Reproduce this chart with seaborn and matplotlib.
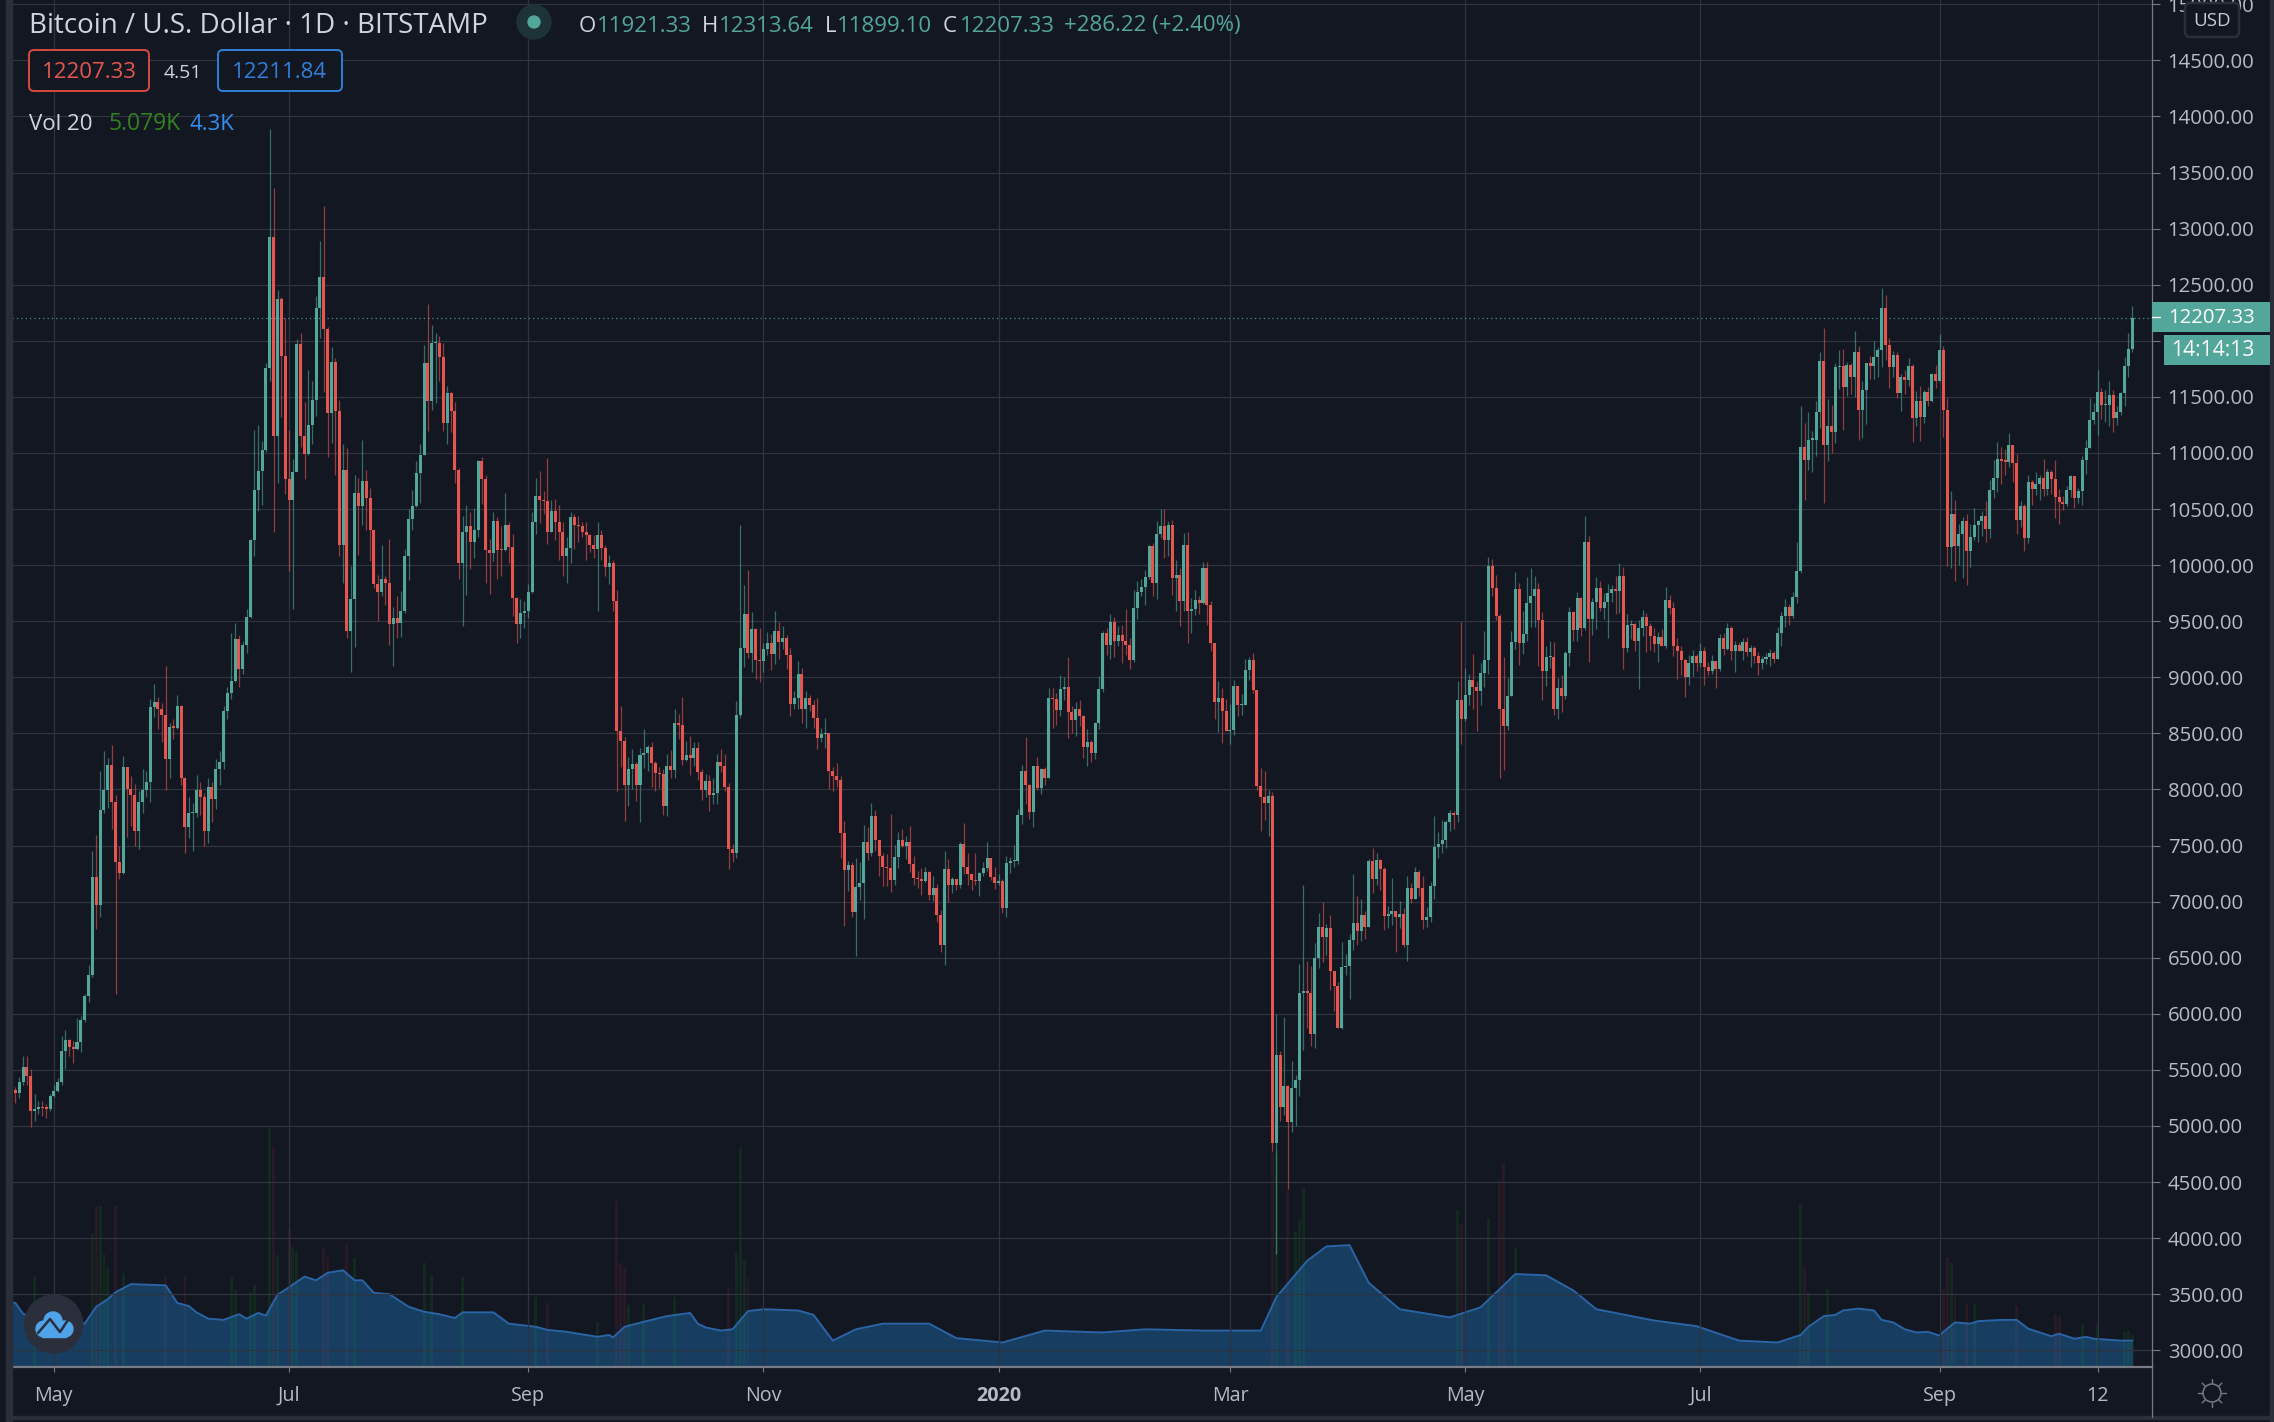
import matplotlib
matplotlib.use("Agg")
import matplotlib.pyplot as plt
import matplotlib.patches as mpatches
from matplotlib.lines import Line2D
from matplotlib.transforms import IdentityTransform
import pandas as pd
import seaborn as sns
import numpy as np

W, H = 2274, 1422
BG = "#131722"
GRID = "#2f333f"
AXIS = "#787b86"
LABEL = "#b7bac2"
UP = "#52a69a"
DOWN = "#e5574e"

START = "2019-04-21"
first_open = 5320

close_vals = [
    5293,5391,5529,5443,5132,5149,5167,5161,5155,5270,
    5310,5391,5667,5764,5701,5690,5747,5943,6155,6345,
    7218,6971,7816,7994,8218,7885,7350,7253,8201,8000,
    7954,7626,7885,7994,8063,8736,8776,8718,8667,8270,
    8557,8552,8741,8103,7661,7787,7793,7994,7937,7626,
    8023,7919,8178,8241,8695,8856,8971,9339,9075,9287,
    9534,10224,10672,10839,11029,11758,12925,11149,12368,11868,
    10764,10580,10833,11971,11149,10994,11247,11471,12293,12569,
    12103,11356,11810,11375,10182,10852,9410,9700,10647,10531,
    10753,10596,10315,9834,9758,9878,9837,9471,9530,9488,
    9591,10083,10408,10527,10825,10985,11798,11460,11976,11983,
    11856,11265,11532,11375,10852,10018,10298,10350,10203,10312,
    10924,10766,10134,10110,10397,10134,10131,10356,10158,9704,
    9478,9577,9591,9762,10387,10620,10578,10572,10298,10486,
    10387,10298,10083,10155,10425,10360,10346,10298,10264,10182,
    10148,10271,10155,9981,10022,9676,8521,8429,8043,8180,
    8226,8039,8304,8322,8378,8238,8146,8137,7851,8206,
    8176,8592,8574,8262,8304,8280,8369,8158,7997,8075,
    7950,7967,8244,8208,8024,7467,7432,8664,9262,9565,
    9217,9432,9155,9146,9253,9307,9208,9414,9315,9351,
    9199,8762,8816,9030,8717,8816,8753,8637,8458,8494,
    8500,8164,8119,8083,7610,7280,7325,6905,7128,7164,
    7530,7432,7762,7548,7405,7307,7298,7191,7396,7548,
    7494,7530,7333,7208,7200,7182,7262,7057,7119,6878,
    6610,7292,7148,7205,7148,7515,7310,7244,7192,7183,
    7253,7297,7389,7218,7166,7183,6943,7345,7358,7362,
    7773,8162,8040,7799,8206,8009,8184,8101,8813,8804,
    8704,8892,8909,8691,8621,8721,8651,8376,8420,8324,
    8590,8892,9399,9285,9495,9320,9381,9320,9285,9150,
    9622,9757,9801,9897,10172,9844,10273,10351,10220,10360,
    9888,9914,9683,10181,9591,9613,9687,9661,9971,9643,
    9303,8778,8818,8695,8520,8529,8918,8752,8756,9067,
    9158,8883,8035,7935,7882,7939,4850,5636,5173,5352,
    5033,5339,5413,6187,6204,6187,5820,6497,6772,6685,
    6764,6379,6248,5872,6418,6427,6659,6812,6737,6882,
    6772,7362,7201,7371,7292,6873,6890,6917,6864,6890,
    6611,7122,7021,7266,7122,6838,6864,7139,7485,7511,
    7550,7708,7786,7773,8796,8630,8839,8979,8909,8879,
    9036,9158,9993,9792,9543,8721,8568,8831,9316,9788,
    9303,9390,9665,9722,9788,9508,9060,9179,9185,8717,
    8902,8836,9217,9583,9423,9708,9440,10208,9521,9673,
    9798,9619,9673,9753,9789,9771,9905,9262,9467,9476,
    9324,9440,9539,9458,9369,9298,9360,9280,9690,9619,
    9280,9235,9155,9003,9128,9190,9128,9235,9092,9057,
    9146,9074,9351,9253,9440,9235,9289,9235,9315,9226,
    9262,9190,9128,9164,9182,9217,9164,9396,9548,9628,
    9548,9717,9949,11056,10940,11119,11119,11369,11824,11074,
    11244,11190,11762,11774,11592,11780,11673,11896,11387,11565,
    11798,11771,11851,11914,12295,11961,11765,11872,11533,11676,
    11649,11774,11315,11467,11324,11539,11467,11708,11643,11920,
    11387,10158,10458,10167,10274,10390,10122,10247,10354,10396,
    10440,10324,10673,10780,10949,10932,10923,11074,10914,10405,
    10530,10238,10744,10682,10726,10780,10682,10833,10771,10610,
    10565,10547,10673,10798,10595,10664,10935,11048,11298,11369,
    11539,11428,11428,11518,11315,11369,11533,11774,11923,12207,
]

high_vals = [
    5351,5437,5626,5626,5511,5287,5224,5218,5195,5282,
    5362,5425,5799,5851,5776,5753,5965,5983,6172,6431,
    7448,7592,8167,8339,8280,8396,7948,7494,8299,8201,
    8121,8052,7983,8184,8161,8805,8937,8822,8770,9098,
    8592,8626,8839,8753,8109,7937,7879,8132,8063,7971,
    8098,8063,8270,8339,8741,8914,9391,9483,9373,9327,
    9609,10236,11207,11247,11109,11804,13890,13362,12454,12390,
    12207,11207,10948,12017,12069,11454,11741,11638,12402,12891,
    13201,12121,11948,11850,11470,11084,11040,9990,10800,10780,
    11118,10845,10684,10326,9916,10182,9899,10237,9629,9728,
    9772,10148,10497,10674,10924,11084,11959,12325,12143,12068,
    12041,11980,11593,11546,11450,10870,10442,10537,10469,10510,
    10941,10961,10804,10237,10476,10432,10353,10647,10380,10281,
    9720,9700,9683,9834,10469,10780,10835,10664,10954,10578,
    10592,10537,10387,10247,10469,10459,10442,10380,10380,10278,
    10264,10380,10309,10182,10093,10049,9779,8740,8467,8289,
    8360,8247,8366,8539,8396,8420,8253,8200,8182,8316,
    8351,8717,8673,8824,8432,8476,8423,8423,8182,8137,
    8128,8101,8316,8360,8316,8057,7512,8789,10360,9824,
    9958,9583,9441,9441,9307,9405,9387,9592,9494,9458,
    9381,9262,8878,9146,9083,8878,8842,8797,8815,8548,
    8637,8503,8200,8235,8119,7717,7360,7351,7387,7351,
    7682,7664,7878,7816,7550,7432,7423,7780,7503,7619,
    7646,7583,7673,7405,7271,7298,7307,7271,7226,7158,
    6923,7450,7380,7218,7201,7533,7699,7432,7253,7432,
    7262,7349,7533,7389,7310,7244,7201,7406,7397,7502,
    7826,8219,8464,8052,8206,8289,8193,8197,8901,8901,
    8857,9019,9001,9185,8743,8778,8796,8660,8538,8437,
    8599,9010,9416,9442,9565,9534,9460,9469,9613,9347,
    9775,9862,9879,9954,10181,10198,10391,10500,10504,10395,
    10404,10045,9971,10290,10299,9709,9775,9722,10024,10032,
    9683,9290,8971,8901,8804,8761,8979,8926,8848,9167,
    9185,9220,8890,8193,8162,7992,7974,6000,5671,5973,
    5362,5579,5453,6445,7148,6471,6427,6632,6899,6995,
    6799,6882,6383,6284,6641,6532,6711,7244,7052,7021,
    6912,7380,7476,7432,7380,7310,6960,7209,6917,7005,
    6943,7227,7166,7310,7284,7227,6952,7174,7764,7620,
    7725,7725,7817,7812,8971,9490,9080,9027,9211,8970,
    9123,9416,10076,10050,9914,9565,9180,8992,9416,9941,
    9844,9587,9897,9971,9906,9844,9583,9280,9324,9315,
    8994,9021,9235,9628,9592,9762,9717,10440,10256,9708,
    9896,9860,9753,9833,9824,9905,10021,9985,9565,9512,
    9485,9512,9601,9577,9485,9440,9405,9432,9806,9735,
    9673,9351,9280,9164,9199,9244,9208,9307,9271,9137,
    9199,9146,9387,9396,9485,9458,9324,9315,9351,9360,
    9289,9280,9226,9190,9217,9253,9235,9449,9583,9699,
    9655,9762,10208,11422,11271,11369,11199,11467,11896,12110,
    11485,11431,11806,11922,11923,11815,11806,12083,11949,11640,
    11806,11860,11997,11940,12473,12408,12029,11908,11899,11702,
    11738,11845,11792,11548,11601,11557,11592,11717,11780,12063,
    11955,11488,10658,10577,10363,10426,10458,10363,10506,10405,
    10485,10574,10762,10940,11101,11057,11039,11182,11074,10994,
    10574,10548,10800,10762,10833,10806,10949,10860,10851,10940,
    10676,10613,10702,10807,10798,10684,10970,11119,11494,11449,
    11735,11577,11565,11640,11560,11414,11542,11854,12068,12313,
]

low_vals = [
    5207,5247,5362,5362,4995,5046,5103,5092,5069,5132,
    5259,5305,5362,5506,5621,5563,5678,5655,5931,6109,
    6328,6759,6862,7793,7833,7649,6172,7201,7247,7575,
    7678,7500,7471,7787,7937,7891,8649,8540,8420,7994,
    8098,8454,8540,8040,7431,7563,7448,7753,7770,7500,
    7523,7707,7822,8040,8178,8626,8810,8960,8914,9029,
    9213,9529,10080,10483,10540,11006,11643,10293,10735,11316,
    10638,9948,9609,10839,11052,10770,10983,11080,11327,12029,
    11546,10966,11086,10800,10083,9844,9352,9044,9273,10093,
    10356,10315,10035,9793,9506,9728,9642,9290,9102,9352,
    9362,9570,9871,10309,10520,10558,10982,11197,11381,11443,
    11645,11197,11081,11187,10732,9878,9461,9731,9967,10059,
    10254,10544,9844,9745,10039,9878,9899,10128,10015,9550,
    9307,9348,9437,9530,9752,10281,10373,10452,10192,10291,
    10220,10049,9899,9844,10022,10148,10210,10247,10049,10120,
    10059,9594,10049,9906,9834,9594,7988,8200,7718,7855,
    8000,7896,7708,8194,8164,8021,7985,8009,7771,7765,
    8101,8101,8449,8217,8253,8128,8208,8083,7905,7932,
    7807,7869,7869,8155,7985,7289,7351,7387,8637,9092,
    9173,9048,8985,8958,9048,9199,9066,9119,9164,9253,
    9074,8655,8717,8717,8592,8548,8699,8548,8360,8423,
    8369,8003,7985,8021,7387,6780,7092,6860,6512,7012,
    6842,7369,7405,7450,7226,7137,7137,7084,7146,7298,
    7485,7378,7262,7146,7119,7063,7173,7012,7003,6815,
    6551,6432,7000,7074,7104,7122,7244,7148,7104,7148,
    7052,7231,7275,7192,7113,7148,6899,6860,7253,7310,
    7336,7695,7869,7734,7664,7992,7957,8040,8101,8547,
    8573,8651,8796,8455,8499,8472,8564,8280,8206,8245,
    8271,8538,8870,9202,9163,9185,9276,9123,9202,9071,
    9132,9517,9722,9648,9879,9722,9700,10238,10059,10081,
    9731,9587,9460,9595,9303,9394,9556,9560,9657,9469,
    9233,8625,8512,8411,8520,8402,8481,8651,8660,8752,
    8979,8857,7996,7633,7725,7585,4780,3858,5046,5094,
    4434,4946,5002,5269,5676,5872,5710,5693,6405,6458,
    6523,6209,6025,5872,5863,6344,6134,6571,6611,6650,
    6668,6772,7078,7148,7104,6746,6764,6794,6549,6764,
    6598,6471,6987,7021,7052,6755,6772,6820,7022,7389,
    7432,7476,7629,7646,7708,8402,8612,8752,8717,8520,
    8752,8909,9027,9722,9512,8101,8171,8529,8831,9250,
    9106,9211,9320,9447,9447,9097,8798,8926,9086,8664,
    8631,8693,8810,9101,9324,9324,9369,9423,9137,9381,
    9432,9592,9521,9351,9673,9565,9574,9074,9226,9342,
    9235,8896,9369,9226,9244,9226,9137,9280,9262,9565,
    9190,8985,9021,8824,8932,9012,9057,9092,8932,9021,
    9030,8905,9057,9199,9244,9155,9048,9235,9155,9190,
    9092,9128,9021,9074,9119,9101,9128,9164,9280,9449,
    9467,9530,9664,9931,10583,10851,10833,10976,11226,10556,
    10931,11003,11092,11574,11208,11512,11521,11503,11119,11137,
    11262,11658,11655,11681,11762,11827,11577,11676,11488,11372,
    11524,11595,11101,11244,11110,11271,11414,11458,11577,11643,
    11146,9988,9970,9854,9997,9881,9827,9979,10220,10202,
    10262,10208,10244,10601,10655,10726,10807,10878,10744,10280,
    10342,10128,10194,10539,10628,10583,10619,10628,10634,10423,
    10369,10494,10524,10607,10512,10551,10533,10815,11048,11262,
    11164,11306,11280,11244,11190,11253,11342,11417,11673,11899,
]

# volume MA (in K), read at the bends of the curve, day number from START
vol_ma_days = [-1,0,2,5,18,21,24,26,30,39,42,45,47,50,54,58,60,63,65,68,71,75,78,81,85,88,90,93,97,
               102,106,110,114,116,124,128,135,138,143,151,154,155,158,163,169,175,177,179,183,186,
               190,194,203,207,212,218,225,237,244,256,267,282,293,308,323,327,335,340,346,351,359,
               372,380,389,397,404,410,425,436,447,457,463,465,469,472,474,478,482,484,487,490,493,
               496,499,500,503,507,509,515,519,522,528,530,534,537,539,546,549]
vol_ma_vals = [10.3,10.2,8.5,7.7,6.9,9.6,10.8,11.9,13.2,13.0,10.2,9.7,8.7,7.7,7.5,8.4,7.7,8.6,8.2,11.5,12.7,14.4,13.8,15.0,15.4,13.8,13.8,11.8,11.6,
               9.6,8.8,8.4,7.8,8.7,8.7,6.9,6.4,5.9,5.6,4.8,5.1,4.7,6.4,7.2,8.1,8.6,6.9,6.3,5.8,6.0,
               8.9,9.2,9.0,8.3,4.2,6.0,6.9,6.9,4.6,3.9,5.8,5.5,6.0,5.8,5.8,11.1,16.9,19.2,19.4,13.4,9.2,
               7.9,9.5,14.8,14.6,12.2,9.2,7.4,6.5,4.2,3.9,5.1,6.4,8.1,8.3,9.0,9.3,9.0,7.5,7.1,6.0,5.5,
               5.6,5.0,5.6,7.1,6.9,7.3,7.5,7.5,6.1,4.9,5.3,4.5,4.8,4.5,4.2,4.2]

# the daily volume bars that stand clear of the MA area
vol_days = [5,20,21,22,23,24,26,28,39,44,56,57,61,62,66,67,68,71,72,73,80,81,86,88,106,108,116,135,138,151,
            156,157,158,159,163,171,185,187,188,189,190,326,327,330,332,333,334,374,375,382,385,386,389,
            463,464,465,470,500,501,502,503,506,508,519,529,530,536,540,547,548,549]
vol_vals = [14.4,21.1,25.7,25.7,18.0,15.9,25.7,14.9,14.4,14.7,14.4,12.2,11.9,13.1,38.0,35.0,17.8,21.8,19.1,18.4,19.0,17.5,19.6,17.4,16.5,14.7,14.4,11.1,10.2,7.2,
            26.5,16.5,16.0,9.8,10.0,11.1,12.8,18.1,35.0,17.0,14.1,34.4,34.0,28.2,21.5,23.4,28.5,25.0,22.8,23.7,29.8,32.5,19.0,
            26.0,16.0,12.0,12.5,12.5,17.5,16.5,11.7,10.0,10.0,9.7,8.5,8.1,6.9,6.9,5.5,5.8,5.08]

price_ticks = list(range(3000, 15500, 500))
time_ticks = ["2019-05-01", "2019-07-01", "2019-09-01", "2019-11-01", "2020-01-01",
              "2020-03-01", "2020-05-01", "2020-07-01", "2020-09-01", "2020-10-12"]
time_labels = ["May", "Jul", "Sep", "Nov", "2020", "Mar", "May", "Jul", "Sep", "12"]

sns.set_theme(style="dark")
plt.rcParams["font.family"] = ["Open Sans", "DejaVu Sans"]

start = pd.Timestamp(START)
df = pd.DataFrame({"date": pd.date_range(START, periods=len(close_vals)),
                   "close": close_vals, "high": high_vals, "low": low_vals})
df["open"] = df["close"].shift().fillna(first_open)
df["up"] = df["close"] >= df["open"]
df["color"] = np.where(df["up"], UP, DOWN)

fig = plt.figure(figsize=(W / 100, H / 100), dpi=100, facecolor=BG)
ax = fig.add_axes([12 / W, 1 - 1367 / H, (2152 - 12) / W, 1367 / H])
ax_vol = ax.twinx()

# volume pane underneath the candles
ax_vol.set_zorder(0)
ax.set_zorder(1)
ax.patch.set_visible(False)
ax_vol.patch.set_facecolor(BG)
ax_vol.patch.set_visible(True)

vol_dates = start + pd.to_timedelta(vol_days, unit="D")
vol_up = df.set_index("date").loc[vol_dates, "up"].values
ax_vol.bar(vol_dates, vol_vals, width=0.75, color=np.where(vol_up, "#13291f", "#271a24"), linewidth=0)

ma_df = pd.DataFrame({"date": start + pd.to_timedelta(vol_ma_days, unit="D"), "vol": vol_ma_vals})
ax_vol.fill_between(ma_df["date"], ma_df["vol"], 0, color="#2196f3", alpha=0.3, linewidth=0)
sns.lineplot(data=ma_df, x="date", y="vol", ax=ax_vol, color="#2a64a5", linewidth=1.4)
ax_vol.set_ylim(0, 1367 / 6.28)
ax_vol.set_ylabel("")
ax_vol.set_yticks([])
for s in ax_vol.spines.values():
    s.set_visible(False)

# candles
ax.vlines(df["date"], df["low"], df["high"], colors=df["color"], linewidth=0.9, alpha=0.6, zorder=3)
body_low = df[["open", "close"]].min(axis=1)
body_h = (df["close"] - df["open"]).abs().clip(lower=10)
ax.bar(df["date"], body_h, bottom=body_low, width=0.78, color=df["color"], linewidth=0, zorder=4)

ax.axhline(12207.33, color=UP, linewidth=0.9, linestyle=(0, (1, 2.5)), alpha=0.85, zorder=2)

x0 = start + pd.Timedelta(days=-0.856)
x1 = start + pd.Timedelta(days=554.1)
ax.set_xlim(x0, x1)
ax.set_ylim(2851, 15038)

ax.set_yticks(price_ticks)
# the 12000 label sits fully behind the price tags
ax.set_yticklabels(["" if p == 12000 else f"{p:.2f}" for p in price_ticks])
ax.yaxis.tick_right()
ax.tick_params(axis="y", length=5.8, width=0.8, color=AXIS, labelcolor=LABEL, labelsize=14.7, pad=5.5, right=True)
ax.set_xticks(pd.to_datetime(time_ticks))
ax.set_xticklabels(time_labels)
ax.tick_params(axis="x", length=3.6, width=0.8, color=AXIS, labelcolor=LABEL, labelsize=14.2, pad=10, bottom=True)
for lab in ax.get_xticklabels():
    if lab.get_text() == "2020":
        lab.set_fontweight("bold")
ax.grid(True, color=GRID, linewidth=0.9)
ax.set_axisbelow(True)
ax.set_xlabel("")
ax.set_ylabel("")
for side in ["top", "left"]:
    ax.spines[side].set_visible(False)
ax.spines["right"].set_color(AXIS)
ax.spines["right"].set_linewidth(0.9)
ax.spines["bottom"].set_color(AXIS)
ax.spines["bottom"].set_linewidth(1.6)


def fx(px):
    return px / W


def fy(py):
    return 1 - py / H


def label(px, py, s, color=LABEL, size=16, ha="left", **kw):
    fig.text(fx(px), fy(py), s, color=color, fontsize=size, ha=ha, va="center", zorder=8, **kw)


def box(x0_, y0_, x1_, y1_, face, edge=None, lw=1.4, rounded=False):
    style = "round,pad=0,rounding_size=5" if rounded else "square,pad=0"
    p = mpatches.FancyBboxPatch((x0_, H - y1_), x1_ - x0_, y1_ - y0_, boxstyle=style,
                                transform=IdentityTransform(), facecolor=face,
                                edgecolor=edge if edge else "none", linewidth=lw if edge else 0, zorder=6)
    fig.add_artist(p)


# header
label(29, 26, "Bitcoin / U.S. Dollar \u00b7 1D \u00b7 BITSTAMP", color="#d1d4dc", size=20)
fig.add_artist(mpatches.Circle((534, H - 22), 17, transform=IdentityTransform(), color="#1e3338", zorder=6))
fig.add_artist(mpatches.Circle((534, H - 22), 6, transform=IdentityTransform(), color=UP, zorder=7))
for px, s, col in [(579, "O", "#d1d4dc"), (597, "11921.33", UP), (702, "H", "#d1d4dc"), (719, "12313.64", UP),
                   (825, "L", "#d1d4dc"), (837, "11899.10", UP), (943, "C", "#d1d4dc"), (960, "12207.33", UP),
                   (1064, "+286.22 (+2.40%)", UP)]:
    label(px, 26, s, color=col, size=16)

box(29, 50, 149, 91, BG, "#d8493f", rounded=True)
label(89, 73, "12207.33", color="#e5574e", size=16, ha="center")
label(183, 73, "4.51", color="#d1d4dc", size=14, ha="center")
box(218, 50, 342, 91, BG, "#2f7fd8", rounded=True)
label(280, 73, "12211.84", color="#2f7fd8", size=16, ha="center")

label(29, 124, "Vol 20", color="#d1d4dc", size=16)
label(109, 124, "5.079K", color="#33801f", size=16.5)
label(190, 124, "4.3K", color="#2f8ff0", size=16)

# scale corner, price and countdown tags
box(2185, 3, 2239, 37, BG, "#2a2e39", lw=1.8, rounded=True)
label(2212, 21, "USD", color="#c8cbd3", size=13.5, ha="center")
box(2152, 302, 2270, 332, UP)
label(2168, 318, "12207.33", color="#ffffff", size=14.7)
fig.add_artist(Line2D([fx(2152), fx(2160)], [fy(317), fy(317)], color="#ffffff", linewidth=0.9, zorder=7))
box(2164, 335, 2270, 365, UP)
label(2171, 350, "14:14:13", color="#ffffff", size=15.2)

# page frame
fig.add_artist(mpatches.Rectangle((6, 0), 6, H, transform=IdentityTransform(), color="#2a2e39", zorder=5))
fig.add_artist(mpatches.Rectangle((2270, 0), 4, H, transform=IdentityTransform(), color="#2a2e39", zorder=5))
fig.add_artist(mpatches.Rectangle((12, H - 1419), 2258, 3, transform=IdentityTransform(), color="#2a2e39", zorder=5))
fig.add_artist(Line2D([fx(2152), fx(2152)], [fy(1367), fy(1417)], color=AXIS, linewidth=0.9, zorder=5))

# settings icon
sx, sy = 2212, 1393
fig.add_artist(mpatches.Circle((sx, H - sy), 9, transform=IdentityTransform(), facecolor=BG,
                               edgecolor=AXIS, linewidth=1.1, zorder=6))
for a in np.deg2rad(np.arange(0, 360, 45)):
    fig.add_artist(Line2D([fx(sx + 10 * np.cos(a)), fx(sx + 14 * np.cos(a))],
                          [fy(sy + 10 * np.sin(a)), fy(sy + 14 * np.sin(a))],
                          color=AXIS, linewidth=1.0, zorder=6))

# logo badge
fig.add_artist(mpatches.Circle((53.6, H - 1324), 29, transform=IdentityTransform(), color="#2b2f3b", zorder=6))
for cx_, cy_, r_ in [(44, 1329, 8), (53, 1321, 9), (65, 1329, 8)]:
    fig.add_artist(mpatches.Circle((cx_, H - cy_), r_, transform=IdentityTransform(), color="#4ea3ea", zorder=7))
fig.add_artist(mpatches.Rectangle((42, H - 1337), 24, 9, transform=IdentityTransform(), color="#4ea3ea", zorder=7))
fig.add_artist(Line2D([fx(38), fx(50), fx(60), fx(68)], [fy(1333), fy(1319), fy(1332), fy(1320)],
                      color="#2b2f3b", linewidth=1.8, zorder=8))

fig.savefig("out.png", dpi=100, facecolor=BG)
print("saved out.png")
